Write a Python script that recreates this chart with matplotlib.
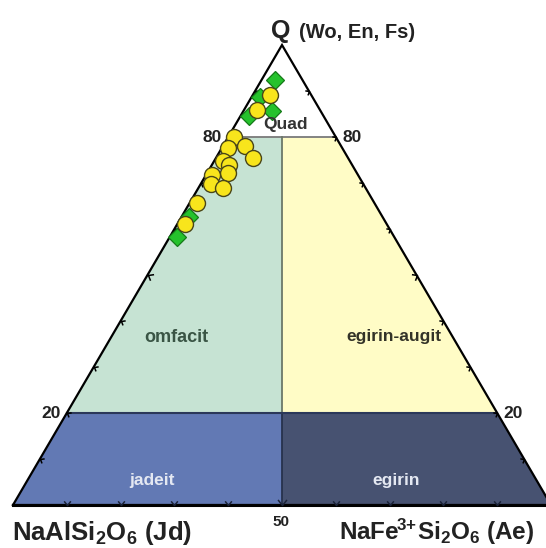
import numpy as np
import matplotlib
matplotlib.use("Agg")
import matplotlib.pyplot as plt
from matplotlib.path import Path
from matplotlib.patches import Polygon

plt.rcParams["font.family"] = ["Liberation Sans", "DejaVu Sans"]
plt.rcParams["mathtext.fontset"] = "custom"
plt.rcParams["mathtext.rm"] = "Liberation Sans:bold"
plt.rcParams["mathtext.bf"] = "Liberation Sans:bold"
plt.rcParams["mathtext.it"] = "Liberation Sans:bold"

# ---- data (ternary %: Q = Wo+En+Fs, Ae = aegirine; Jd = 100 - Q - Ae) ----
circle_Q = [89.1, 85.9, 80.0, 78.0, 77.6, 75.4, 74.8, 73.9, 72.2, 71.7, 69.8, 68.9, 65.7, 61.1]
circle_Ae = [3.2, 2.4, 1.1, 4.1, 1.2, 6.9, 1.6, 3.2, 3.9, 1.1, 1.9, 4.6, 1.4, 1.4]
diamond_Q = [92.4, 88.7, 85.7, 84.6, 62.6, 58.3]
diamond_Ae = [2.5, 1.6, 5.3, 1.6, 1.4, 1.3]

tick_values = [10, 20, 30, 40, 50, 60, 70, 80, 90]
labelled_Q = [80, 20]
base_label = "50"

W, H = 546, 548
fig = plt.figure(figsize=(W / 100, H / 100), dpi=100)
ax = fig.add_axes([0, 0, 1, 1])
ax.set_axis_off()
# pixel mapping: Jd vertex (13,505), Ae vertex (551,505), apex (282,45)
ax.set_xlim(-13 / 538, (W - 13) / 538)
ax.set_ylim((505 - H) / 460, 505 / 460)


def cart(Q, Ae):
    Q = np.asarray(Q, float) / 100.0
    Ae = np.asarray(Ae, float) / 100.0
    return Ae + Q / 2.0, Q


def px(x, y):
    return x / W, 1 - y / H


def region(pts, color, z=1):
    xy = [cart(q, a) for q, a in pts]
    ax.add_patch(Polygon(xy, closed=True, facecolor=color, edgecolor="none", zorder=z))


# regions  (Q, Ae) corners; Ae/(Jd+Ae) = 0.5 split
region([(80, 0), (20, 0), (20, 40), (80, 10)], "#c6e3d3")          # omfacit
region([(80, 10), (20, 40), (20, 80), (80, 20)], "#fffcc6")        # egirin-augit
region([(20, 0), (0, 0), (0, 50), (20, 40)], "#6279b4")            # jadeit
region([(20, 40), (0, 50), (0, 100), (20, 80)], "#475271")         # egirin

# boundary lines
ax.plot(*zip(cart(80, 0), cart(80, 20)), color="#7a7a7a", lw=1.3, zorder=2)
ax.plot(*zip(cart(80, 10), cart(20, 40)), color="#6b7868", lw=1.3, zorder=2)
ax.plot(*zip(cart(20, 40), cart(0, 50)), color="#27324d", lw=1.3, zorder=2)
ax.plot(*zip(cart(20, 0), cart(20, 80)), color="#2b3859", lw=1.5, zorder=2)

# triangle outline
tri = [cart(0, 0), cart(100, 0), cart(0, 100), cart(0, 0)]
ax.plot([p[0] for p in tri], [p[1] for p in tri], color="black", lw=1.6, zorder=5,
        solid_joinstyle="miter")
ax.plot(*zip(cart(0, 0), cart(0, 100)), color="black", lw=2.2, zorder=5)

# chevron tick markers (tip on edge, arms inside)
def chevron(angle_deg):
    a = np.deg2rad(angle_deg)
    d = np.array([np.cos(a), np.sin(a)])
    n = np.array([-d[1], d[0]])
    v = [tuple(d + 0.8 * n), (0, 0), tuple(d - 0.8 * n)]
    return Path(v, [Path.MOVETO, Path.LINETO, Path.LINETO])

left_m = chevron(-30)
right_m = chevron(210)
bottom_m = chevron(90)
for t in tick_values:
    ms = 8 if t == 50 else 6
    x, y = cart(t, 0)
    ax.plot(x, y, marker=left_m, ms=ms, mfc="none", mec="black", mew=1.1, zorder=6)
    x, y = cart(t, 100 - t)
    ax.plot(x, y, marker=right_m, ms=ms, mfc="none", mec="black", mew=1.1, zorder=6)
    x, y = cart(0, t)
    ax.plot(x, y, marker=bottom_m, ms=ms, mfc="none", mec="#1a2238", mew=1.1, zorder=6)

# data points
dx, dy = cart(diamond_Q, diamond_Ae)
ax.plot(dx, dy, "D", ms=9.5, mfc="#25c22c", mec="#157a18", mew=0.9, ls="none", zorder=7)
cx, cy = cart(circle_Q, circle_Ae)
ax.plot(cx, cy, "o", ms=11.5, mfc="#f8e51c", mec="#4a4618", mew=1.0, ls="none", zorder=8)

# tick labels
for q in labelled_Q:
    x, y = cart(q, 0)
    ax.text(x - 0.012, y, str(q), ha="right", va="center", fontsize=12.5,
            fontweight="bold", color="#222222", zorder=9)
    x, y = cart(q, 100 - q)
    ax.text(x + 0.012, y, str(q), ha="left", va="center", fontsize=12.5,
            fontweight="bold", color="#222222", zorder=9)

# region labels
fig.text(*px(286, 125), "Quad", ha="center", va="center", fontsize=12.5, fontweight="bold", color="#333333")
fig.text(*px(176, 337), "omfacit", ha="center", va="center", fontsize=13, fontweight="bold", color="#3a5545")
fig.text(*px(394, 337), "egirin-augit", ha="center", va="center", fontsize=12.5, fontweight="bold", color="#333328")
fig.text(*px(152, 481), "jadeit", ha="center", va="center", fontsize=12.5, fontweight="bold", color="#e4e8f2")
fig.text(*px(396, 481), "egirin", ha="center", va="center", fontsize=12.5, fontweight="bold", color="#e4e8f2")

# vertex labels
fig.text(*px(281, 38), "Q", ha="center", va="baseline", fontsize=18, fontweight="bold", color="#222222")
fig.text(*px(299, 38), "(Wo, En, Fs)", ha="left", va="baseline", fontsize=14.5, fontweight="bold", color="#222222")
fig.text(*px(12, 540), r"NaAlSi$_{2}$O$_{6}$ (Jd)", ha="left", va="baseline",
         fontsize=18.5, fontweight="bold", color="#222222")
fig.text(*px(339, 540), r"NaFe$^{\!3\!+\!}$Si$_{2}$O$_{6}$ (Ae)", ha="left", va="baseline",
         fontsize=17.5, fontweight="bold", color="#222222")
fig.text(*px(281, 526), base_label, ha="center", va="baseline", fontsize=11, fontweight="bold", color="#222222")

fig.savefig("out.png", dpi=100)
